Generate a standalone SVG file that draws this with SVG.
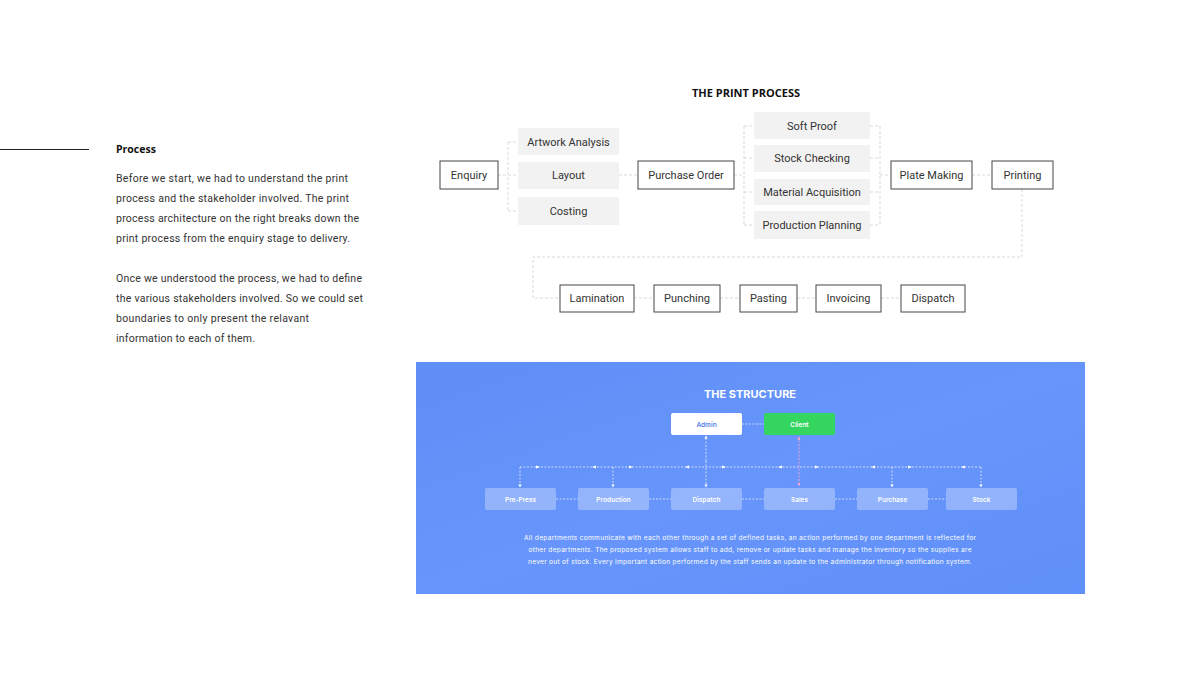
<svg xmlns="http://www.w3.org/2000/svg" width="1200" height="675" viewBox="0 0 1200 675">
<defs>
<style>
.body{font-family:Roboto,"Liberation Sans",sans-serif;font-size:10.5px;fill:#333}
.h{font-family:"Open Sans","Liberation Sans",sans-serif;font-weight:700;fill:#111}
.node rect{fill:#fff;stroke:#444;stroke-width:1}
.sub rect{fill:#f2f2f2}
.lbl{font-family:Roboto,"Liberation Sans",sans-serif;font-size:11px;fill:#333;text-anchor:middle}
.con{fill:none;stroke:#d9d9d9;stroke-width:1;stroke-dasharray:3 2}
.scon{fill:none;stroke:#e4ecff;stroke-width:0.8;stroke-dasharray:2 1.5}
.dept rect{fill:#ffffff;fill-opacity:0.3}
.dl{font-family:Inter,"Liberation Sans",sans-serif;font-size:6.5px;font-weight:600;fill:#fff;text-anchor:middle}
.para{font-family:Inter,"Liberation Sans",sans-serif;font-size:6.6px;fill:#fff;text-anchor:middle}
</style>
<linearGradient id="bg" x1="0" y1="0" x2="1" y2="1">
<stop offset="0" stop-color="#5e8ef6"/>
<stop offset="0.5" stop-color="#6795fb"/>
<stop offset="1" stop-color="#5f8ff8"/>
</linearGradient>
<marker id="ad" viewBox="0 0 6 6" refX="3" refY="3" markerWidth="4" markerHeight="4" orient="auto"><path d="M0,0L6,3L0,6z" fill="#fff"/></marker>
</defs>
<rect width="1200" height="675" fill="#fff"/>

<g id="intro">
<line x1="0" y1="149.5" x2="89" y2="149.5" stroke="#222" stroke-width="1"/>
<text class="h" x="116" y="153" font-size="10.5">Process</text>
<text class="body" x="116" y="182" textLength="232">Before we start, we had to understand the print</text>
<text class="body" x="116" y="202" textLength="233">process and the stakeholder involved. The print</text>
<text class="body" x="116" y="222" textLength="243">process architecture on the right breaks down the</text>
<text class="body" x="116" y="242" textLength="234">print process from the enquiry stage to delivery.</text>
<text class="body" x="116" y="282" textLength="246">Once we understood the process, we had to define</text>
<text class="body" x="116" y="302" textLength="247">the various stakeholders involved. So we could set</text>
<text class="body" x="116" y="322" textLength="193">boundaries to only present the relavant</text>
<text class="body" x="116" y="342" textLength="139">information to each of them.</text>
</g>

<text class="h" x="746" y="97" font-size="11" text-anchor="middle">THE PRINT PROCESS</text>

<g id="connectors">
<path class="con" d="M498,175H508M508,142V211M508,142H518M508,175H518M508,211H518"/>
<path class="con" d="M619,175H638"/>
<path class="con" d="M734,175H744M744,126V225M744,126H754M744,158H754M744,192H754M744,225H754"/>
<path class="con" d="M870,126H880M870,158H880M870,192H880M870,225H880M880,126V225M880,175H891"/>
<path class="con" d="M972,175H992"/>
<path class="con" d="M1022,189V257H533V298H560"/>
<path class="con" d="M634,298H654M720,298H740M797,298H816M881,298H901"/>
</g>

<g id="enquiry" class="node"><rect x="440" y="161" width="58" height="28"/><text class="lbl" x="469" y="178.5">Enquiry</text></g>
<g id="artwork" class="sub"><rect x="518" y="128" width="101" height="27"/><text class="lbl" x="568.5" y="145.5">Artwork Analysis</text></g>
<g id="layout" class="sub"><rect x="518" y="162" width="101" height="27"/><text class="lbl" x="568.5" y="179">Layout</text></g>
<g id="costing" class="sub"><rect x="518" y="197" width="101" height="28"/><text class="lbl" x="568.5" y="215">Costing</text></g>
<g id="purchase-order" class="node"><rect x="638" y="161" width="96" height="28"/><text class="lbl" x="686" y="178.5">Purchase Order</text></g>
<g id="soft-proof" class="sub"><rect x="754" y="112" width="116" height="27"/><text class="lbl" x="812" y="129.5">Soft Proof</text></g>
<g id="stock-checking" class="sub"><rect x="754" y="145" width="116" height="27"/><text class="lbl" x="812" y="162">Stock Checking</text></g>
<g id="material" class="sub"><rect x="754" y="179" width="116" height="26"/><text class="lbl" x="812" y="195.5">Material Acquisition</text></g>
<g id="planning" class="sub"><rect x="754" y="211" width="116" height="28"/><text class="lbl" x="812" y="228.5">Production Planning</text></g>
<g id="plate-making" class="node"><rect x="891" y="161" width="81" height="28"/><text class="lbl" x="931.5" y="178.5">Plate Making</text></g>
<g id="printing" class="node"><rect x="992" y="161" width="61" height="28"/><text class="lbl" x="1022.5" y="178.5">Printing</text></g>
<g id="lamination" class="node"><rect x="560" y="285" width="74" height="27"/><text class="lbl" x="597" y="302">Lamination</text></g>
<g id="punching" class="node"><rect x="654" y="285" width="66" height="27"/><text class="lbl" x="687" y="302">Punching</text></g>
<g id="pasting" class="node"><rect x="740" y="285" width="57" height="27"/><text class="lbl" x="768.5" y="302">Pasting</text></g>
<g id="invoicing" class="node"><rect x="816" y="285" width="65" height="27"/><text class="lbl" x="848.5" y="302">Invoicing</text></g>
<g id="dispatch" class="node"><rect x="901" y="285" width="64" height="27"/><text class="lbl" x="933" y="302">Dispatch</text></g>

<g id="structure">
<rect x="416" y="362" width="669" height="232" fill="url(#bg)"/>
<text x="750" y="398" font-family="Inter,'Liberation Sans',sans-serif" font-size="11" font-weight="700" fill="#fff" text-anchor="middle">THE STRUCTURE</text>

<g id="structure-connectors">
<path class="scon" d="M742,424H764"/>
<path class="scon" d="M520,467H981"/>
<path class="scon" d="M520,467V486" marker-end="url(#ad)"/>
<path class="scon" d="M613,467V486" marker-end="url(#ad)"/>
<path class="scon" d="M892,467V486" marker-end="url(#ad)"/>
<path class="scon" d="M981,467V486" marker-end="url(#ad)"/>
<path class="scon" d="M706,461V486" marker-end="url(#ad)"/>
<path class="scon" d="M706,461V437" marker-end="url(#ad)"/>
<path d="M799,437V486" fill="none" stroke="#f3a7c8" stroke-width="0.9" stroke-dasharray="2 1.5"/>
<path d="M797.5,440L799,436.5L800.5,440zM797.5,483L799,486.5L800.5,483z" fill="#f3a7c8"/>
<g fill="#fff">
<path d="M536,465.5L540,467L536,468.5z"/>
<path d="M596,465.5L592,467L596,468.5z"/>
<path d="M629,465.5L633,467L629,468.5z"/>
<path d="M689,465.5L685,467L689,468.5z"/>
<path d="M722,465.5L726,467L722,468.5z"/>
<path d="M782,465.5L778,467L782,468.5z"/>
<path d="M815,465.5L819,467L815,468.5z"/>
<path d="M875,465.5L871,467L875,468.5z"/>
<path d="M908,465.5L912,467L908,468.5z"/>
<path d="M965,465.5L961,467L965,468.5z"/>
</g>
<path class="scon" d="M556,499H578M649,499H671M742,499H764M835,499H857M928,499H946"/>
</g>

<g id="admin"><rect x="671" y="413" width="71" height="22" rx="2" fill="#fff"/><text class="dl" x="706.5" y="426.5" fill="#5b82e8" style="fill:#5b82e8">Admin</text></g>
<g id="client"><rect x="764" y="413" width="71" height="22" rx="2" fill="#35d660"/><text class="dl" x="799.5" y="426.5">Client</text></g>
<g id="pre-press" class="dept"><rect x="485" y="488" width="71" height="22" rx="2"/><text class="dl" x="520.5" y="501.5">Pre-Press</text></g>
<g id="production" class="dept"><rect x="578" y="488" width="71" height="22" rx="2"/><text class="dl" x="613.5" y="501.5">Production</text></g>
<g id="dispatch-dept" class="dept"><rect x="671" y="488" width="71" height="22" rx="2"/><text class="dl" x="706.5" y="501.5">Dispatch</text></g>
<g id="sales" class="dept"><rect x="764" y="488" width="71" height="22" rx="2"/><text class="dl" x="799.5" y="501.5">Sales</text></g>
<g id="purchase" class="dept"><rect x="857" y="488" width="71" height="22" rx="2"/><text class="dl" x="892.5" y="501.5">Purchase</text></g>
<g id="stock" class="dept"><rect x="946" y="488" width="71" height="22" rx="2"/><text class="dl" x="981.5" y="501.5">Stock</text></g>

<text class="para" x="750" y="540" textLength="452">All departments communicate with each other through a set of defined tasks, an action performed by one department is reflected for</text>
<text class="para" x="750" y="552" textLength="443">other departments. The proposed system allows staff to add, remove or update tasks and manage the inventory so the supplies are</text>
<text class="para" x="750" y="564" textLength="444">never out of stock. Every important action performed by the staff sends an update to the administrator through notification system.</text>
</g>
</svg>
